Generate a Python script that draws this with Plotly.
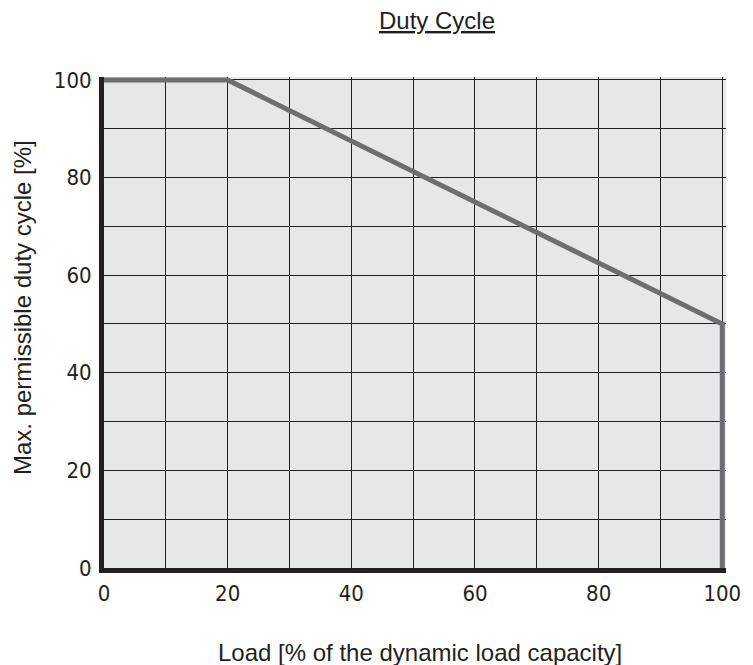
import plotly.graph_objects as go

load = [0, 20, 100, 100]
duty = [100, 100, 50, 0]
x_ticks = [0, 20, 40, 60, 80, 100]
y_ticks = [0, 20, 40, 60, 80, 100]
grid_vals = list(range(10, 100, 20))

# the page puts the figure 8px in from the top-left corner
OFF = 8
W, H = 753 - OFF, 665 - OFF
L, R, T, B = 104 - OFF, 27, 77 - OFF, 97
pw, ph = W - L - R, H - T - B

def px_x(px):
    return (px - OFF - L) / pw

def px_y(py):
    return (H - B - (py - OFF)) / ph

fig = go.Figure()
fig.add_trace(go.Scatter(x=load, y=duty, mode="lines",
                         line=dict(color="#6d6e71", width=5), cliponaxis=False,
                         showlegend=False))

ink = "#231f20"
tickfont = dict(family="DejaVu Sans Condensed, Liberation Sans Narrow, Arial", size=22, color=ink)
titlefont = dict(family="Liberation Sans, Arial", size=24, color=ink)

fig.update_layout(
    width=W, height=H,
    margin=dict(l=L, r=R, t=T, b=B),
    paper_bgcolor="white", plot_bgcolor="#e6e7e8",
    xaxis=dict(range=[0, 100.6], tickvals=x_ticks, showgrid=True,
               gridcolor=ink, gridwidth=1, zeroline=False,
               showline=True, linecolor=ink, linewidth=5,
               ticks="outside", ticklen=2, tickcolor="rgba(0,0,0,0)",
               tickfont=tickfont, automargin=False,
               minor=dict(tickvals=grid_vals, showgrid=True, gridcolor=ink, gridwidth=1)),
    yaxis=dict(range=[0, 100.6], tickvals=y_ticks, showgrid=True,
               gridcolor=ink, gridwidth=1, zeroline=False,
               showline=True, linecolor=ink, linewidth=5,
               ticks="outside", ticklen=3, tickcolor="rgba(0,0,0,0)",
               tickfont=tickfont, automargin=False,
               minor=dict(tickvals=grid_vals, showgrid=True, gridcolor=ink, gridwidth=1)),
    annotations=[
        dict(text="<u>Duty Cycle</u>", xref="paper", yref="paper",
             x=px_x(437), y=px_y(20), xanchor="center", yanchor="middle",
             showarrow=False, font=titlefont),
        dict(text="Load [% of the dynamic load capacity]", xref="paper", yref="paper",
             x=px_x(420), y=px_y(652), xanchor="center", yanchor="middle",
             showarrow=False, font=titlefont),
        dict(text="Max. permissible duty cycle [%]", xref="paper", yref="paper",
             x=px_x(22), y=px_y(308), xanchor="center", yanchor="middle",
             textangle=-90, showarrow=False, font=titlefont),
    ],
)

fig.write_html("out.html")
